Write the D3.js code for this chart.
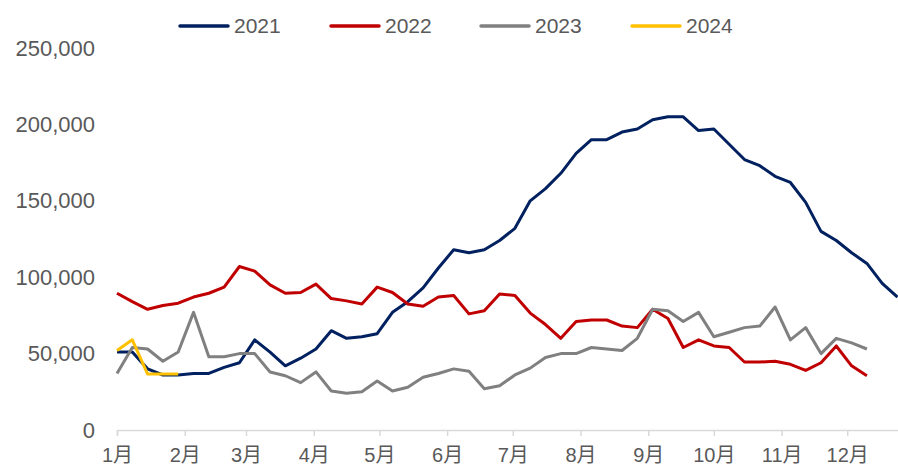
<!DOCTYPE html>
<html>
<head>
<meta charset="utf-8">
<script src="https://cdn.jsdelivr.net/npm/d3@7"></script>
<style>
  body { margin: 0; background: #fff; }
  svg text { font-family: "Liberation Sans", "Noto Sans CJK SC", sans-serif; fill: #595959; }
</style>
</head>
<body>
<div id="chart"></div>
<script>
// 周度数据，每年从1月1日起按周排列
const years = ["2021", "2022", "2023", "2024"];
const colors = ["#002060", "#C00000", "#808080", "#FFC000"];

const s2021 = [51000, 51000, 40000, 36000, 36000, 37000, 37000, 41000, 44000, 59000,
  51000, 42000, 47000, 53000, 65000, 60000, 61000, 63000, 77000, 84000,
  93000, 106000, 118000, 116000, 118000, 124000, 132000, 150000, 158000, 168000,
  181000, 190000, 190000, 195000, 197000, 203000, 205000, 205000, 196000, 197000,
  187000, 177000, 173000, 166000, 162000, 149000, 130000, 124000, 116000, 109000,
  96000, 87000];
const s2022 = [89500, 84000, 79000, 81500, 83000, 87000, 89500, 93500, 107000, 104000,
  95000, 89500, 90000, 95500, 86000, 84500, 82500, 93500, 90000, 82500,
  81000, 87000, 88000, 76000, 78000, 89000, 88000, 76500, 69000, 60000,
  71000, 72000, 72000, 68000, 67000, 79000, 73000, 54000, 59000, 55000,
  54000, 44500, 44500, 45000, 43000, 39000, 44000, 55000, 42000, 35500];
const s2023 = [37000, 54000, 53000, 45000, 51000, 77000, 48000, 48000, 50000, 50000,
  38000, 35500, 31000, 38000, 25500, 24000, 25000, 32000, 25500, 28000,
  34500, 37000, 40000, 38500, 27000, 29000, 36000, 40500, 47500, 50000,
  50000, 54000, 53000, 52000, 60000, 79000, 78000, 71000, 77000, 61000,
  64000, 67000, 68000, 80500, 59000, 67000, 50000, 60000, 57000, 53000];
const s2024 = [52000, 59000, 36600, 36600, 36600];
const series = [s2021, s2022, s2023, s2024];

const yTicks = [0, 50000, 100000, 150000, 200000, 250000];

const width = 898, height = 468;
const start = new Date(2021, 0, 1), end = new Date(2022, 0, 1);

const svg = d3.select("#chart")
    .append("svg")
    .attr("width", width)
    .attr("height", height);

const x = d3.scaleTime()
    .domain([start, end])
    .range([117, 915]);

const y = d3.scaleLinear()
    .domain([0, 250000])
    .range([430, 48]);

// 横轴
const months = d3.timeMonth.range(start, end);
const xAxis = svg.append("g")
    .attr("transform", "translate(0,430)")
    .call(d3.axisBottom(x)
        .tickValues(months)
        .tickSize(6)
        .tickPadding(12)
        .tickFormat(d => (d.getMonth() + 1) + "月"));
xAxis.select(".domain").attr("stroke", "#d9d9d9").attr("stroke-width", 1.5);
xAxis.selectAll(".tick line").attr("stroke", "#d9d9d9").attr("stroke-width", 1.5);
xAxis.selectAll("text").style("font-size", "20px").attr("fill", "#595959");

// 纵轴
const yAxis = svg.append("g")
    .attr("transform", "translate(117,0)")
    .call(d3.axisLeft(y)
        .tickValues(yTicks)
        .tickSize(0)
        .tickPadding(22)
        .tickFormat(d3.format(",")));
yAxis.select(".domain").remove();
yAxis.selectAll("text").style("font-size", "22px").attr("fill", "#595959");

const line = d3.line()
    .x((d, i) => x(d3.timeDay.offset(start, 7 * i)))
    .y(d => y(d));

series.forEach((s, i) => {
    svg.append("path")
        .datum(s)
        .attr("fill", "none")
        .attr("stroke", colors[i])
        .attr("stroke-width", 3)
        .attr("stroke-linejoin", "round")
        .attr("d", line);
});

// 图例
const legendX = [180, 331, 481, 632];
const legend = svg.append("g");
years.forEach((yr, i) => {
    legend.append("line")
        .attr("x1", legendX[i]).attr("x2", legendX[i] + 48)
        .attr("y1", 26).attr("y2", 26)
        .attr("stroke", colors[i])
        .attr("stroke-width", 3.5)
        .attr("stroke-linecap", "round");
    legend.append("text")
        .attr("x", legendX[i] + 54)
        .attr("y", 26)
        .attr("dy", "0.35em")
        .style("font-size", "21px")
        .text(yr);
});
</script>
</body>
</html>
